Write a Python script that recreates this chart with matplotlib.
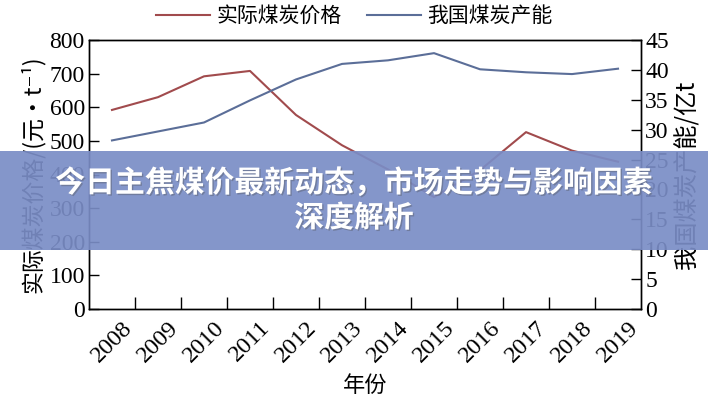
import matplotlib
matplotlib.use('Agg')
import matplotlib.pyplot as plt
import matplotlib.patheffects as pe
from matplotlib.patches import Rectangle

plt.rcParams['font.family'] = ['Liberation Serif', 'Noto Sans CJK SC', 'DejaVu Sans']

years = [str(y) for y in range(2008, 2020)]
# 实际煤炭价格 (元/t)
price = [592, 630, 692, 708, 577, 487, 415, 333, 413, 526, 471, 438]
# 我国煤炭产能 (亿t)
capacity = [28.2, 29.7, 31.2, 34.9, 38.4, 41.0, 41.6, 42.8, 40.1, 39.6, 39.3, 40.2]

banner_lines = ['今日主焦煤价最新动态，市场走势与影响因素', '深度解析']

red = '#a14b4d'
blue = '#5b6e98'
cjk = ['Noto Sans CJK SC', 'DejaVu Sans']

fig = plt.figure(figsize=(7.08, 4), dpi=100)
ax = fig.add_axes([0.1257, 0.2275, 0.7797, 0.6725])
ax2 = ax.twinx()

x = list(range(len(years)))
l1, = ax.plot(x, price, color=red, lw=1.5, label='实际煤炭价格')
l2, = ax2.plot(x, capacity, color=blue, lw=1.5, label='我国煤炭产能')

ax.set_xlim(-0.5, len(years) - 0.5)
ax.set_ylim(0, 800)
ax2.set_ylim(0, 45)
ax.set_yticks(range(0, 801, 100))
ax2.set_yticks(range(0, 46, 5))

# ticks on category boundaries, labels at centres
ax.set_xticks([i + 0.5 for i in range(len(years) - 1)])
ax.set_xticklabels([])
ax.set_xticks(x, minor=True)
ax.set_xticklabels(years, minor=True, rotation=45, ha='center', fontsize=17.5)
ax.tick_params(axis='x', which='minor', length=0, pad=6)
ax.tick_params(axis='x', which='major', direction='in', length=9, width=1)
ax.tick_params(axis='y', direction='in', length=7, width=1, labelsize=17, pad=3)
ax2.tick_params(axis='y', direction='in', length=7, width=1, labelsize=17, pad=3)

for a in (ax, ax2):
    for s in a.spines.values():
        s.set_linewidth(1.0)

ax.set_xlabel('年份', family=cjk, fontsize=16, labelpad=5)
ax.set_ylabel('实际煤炭价格/(元•t⁻¹)', family=cjk, fontsize=16.5, labelpad=3)
ax2.set_ylabel('我国煤炭产能/亿t', family=cjk, fontsize=17.5, labelpad=4, rotation=90)

fig.legend(handles=[l1, l2], loc='center', bbox_to_anchor=(0.5, 1 - 16 / 400),
           ncol=2, frameon=False, prop={'family': cjk, 'size': 15},
           handlelength=2.6, columnspacing=1.2, handletextpad=0.3)

# overlay banner
fig.patches.append(Rectangle((0, 1 - 250 / 400), 1, 99 / 400, transform=fig.transFigure,
                             facecolor='#7a8dc6', alpha=0.92, zorder=5, edgecolor='none'))
shadow = [pe.withSimplePatchShadow(offset=(1, -1), alpha=0.35)]
fig.text(0.5, 1 - 183 / 400, banner_lines[0], ha='center', va='center', color='white',
         fontsize=21.5, fontweight='bold', family=cjk, zorder=6, path_effects=shadow)
fig.text(0.5, 1 - 218 / 400, banner_lines[1], ha='center', va='center', color='white',
         fontsize=21.5, fontweight='bold', family=cjk, zorder=6, path_effects=shadow)

fig.savefig('out.png', dpi=100)
